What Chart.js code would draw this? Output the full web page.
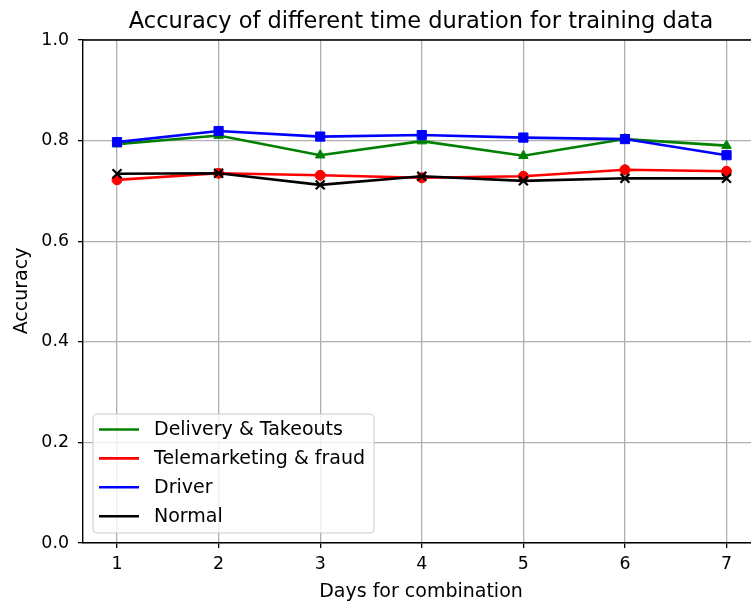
<!DOCTYPE html>
<html>
<head>
<meta charset="utf-8">
<script src="https://cdn.jsdelivr.net/npm/chart.js@4/dist/chart.umd.min.js"></script>
<style>
  html, body { margin: 0; padding: 0; background: #fff; }
  #wrap { width: 751px; height: 606px; overflow: hidden; position: relative; }
  #c { display: block; }
</style>
</head>
<body>
<div id="wrap"><canvas id="c" width="770" height="606"></canvas></div>
<script>
// Days used for combining training data
const days = [1, 2, 3, 4, 5, 6, 7];
const yTicks = [0.0, 0.2, 0.4, 0.6, 0.8, 1.0];

// Accuracy per category
const deliveryTakeouts = [0.793, 0.810, 0.771, 0.799, 0.770, 0.803, 0.790];
const telemarketingFraud = [0.722, 0.735, 0.731, 0.726, 0.729, 0.742, 0.739];
const driver = [0.797, 0.819, 0.808, 0.811, 0.806, 0.803, 0.771];
const normal = [0.734, 0.735, 0.712, 0.729, 0.720, 0.725, 0.725];

const titleText = 'Accuracy of different time duration for training data';
const xTitle = 'Days for combination';
const yTitle = 'Accuracy';

const FONT = '"DejaVu Sans", sans-serif';

function pts(vals) { return vals.map((v, i) => ({ x: days[i], y: v })); }

function series(label, vals, color, style, radius, order) {
  return {
    label, data: pts(vals), borderColor: color, backgroundColor: color,
    borderWidth: 2.6, pointStyle: style, pointRadius: radius,
    pointBorderWidth: style === 'crossRot' ? 2.2 : 1,
    pointBackgroundColor: color, pointBorderColor: color,
    tension: 0, order
  };
}

const decor = {
  id: 'decor',
  afterDraw(chart) {
    const { ctx, chartArea: a } = chart;
    ctx.save();
    // top frame line
    ctx.strokeStyle = '#000';
    ctx.lineWidth = 1.4;
    ctx.beginPath();
    ctx.moveTo(a.left, a.top);
    ctx.lineTo(a.right, a.top);
    ctx.stroke();

    // title
    ctx.fillStyle = '#000';
    ctx.font = '22.5px ' + FONT;
    ctx.textAlign = 'center';
    ctx.textBaseline = 'alphabetic';
    ctx.fillText(titleText, 421, 27.5);

    // axis titles
    ctx.font = '19px ' + FONT;
    ctx.fillText(xTitle, 421, 597);
    ctx.save();
    ctx.translate(27, 291);
    ctx.rotate(-Math.PI / 2);
    ctx.fillText(yTitle, 0, 0);
    ctx.restore();

    // legend
    const lx = 93, ly = 414, lw = 281, lh = 119, r = 4;
    ctx.beginPath();
    ctx.moveTo(lx + r, ly);
    ctx.arcTo(lx + lw, ly, lx + lw, ly + lh, r);
    ctx.arcTo(lx + lw, ly + lh, lx, ly + lh, r);
    ctx.arcTo(lx, ly + lh, lx, ly, r);
    ctx.arcTo(lx, ly, lx + lw, ly, r);
    ctx.closePath();
    ctx.fillStyle = 'rgba(255,255,255,0.8)';
    ctx.fill();
    ctx.strokeStyle = '#cccccc';
    ctx.lineWidth = 1;
    ctx.stroke();

    ctx.font = '19px ' + FONT;
    ctx.textAlign = 'left';
    ctx.textBaseline = 'middle';
    const legendOrder = [...chart.data.datasets].sort((p, q) => q.order - p.order);
    legendOrder.forEach((ds, i) => {
      const y = 429.5 + i * 28.9;
      ctx.strokeStyle = ds.borderColor;
      ctx.lineWidth = 2.6;
      ctx.beginPath();
      ctx.moveTo(99, y);
      ctx.lineTo(139, y);
      ctx.stroke();
      ctx.fillStyle = '#000';
      ctx.fillText(ds.label, 154, y + 1);
    });
    ctx.restore();
  }
};

new Chart(document.getElementById('c'), {
  type: 'line',
  data: {
    datasets: [
      series('Delivery & Takeouts', deliveryTakeouts, '#008000', 'triangle', 5.5, 4),
      series('Telemarketing & fraud', telemarketingFraud, '#ff0000', 'circle', 5, 3),
      series('Driver', driver, '#0000ff', 'rect', 6.5, 2),
      series('Normal', normal, '#000000', 'crossRot', 6.3, 1)
    ]
  },
  options: {
    responsive: false,
    animation: false,
    devicePixelRatio: 1,
    layout: { padding: { top: 40, right: 13, left: 0, bottom: 0 } },
    plugins: { legend: { display: false }, title: { display: false }, tooltip: { enabled: false } },
    scales: {
      x: {
        type: 'linear', min: 0.665, max: 7.3,
        afterBuildTicks: s => { s.ticks = days.map(v => ({ value: v })); },
        afterFit: s => { s.height = 63; },
        grid: { color: '#b0b0b0', lineWidth: 1.3, tickColor: '#000', tickLength: 5, tickWidth: 1.3 },
        border: { display: true, color: '#000', width: 1.4 },
        ticks: { color: '#000', font: { family: FONT, size: 17.4 }, padding: 6, maxRotation: 0 }
      },
      y: {
        type: 'linear', min: 0, max: 1,
        afterBuildTicks: s => { s.ticks = yTicks.map(v => ({ value: v })); },
        afterFit: s => { s.width = 83; },
        grid: { color: '#b0b0b0', lineWidth: 1.3, tickColor: '#000', tickLength: 5, tickWidth: 1.3 },
        border: { display: true, color: '#000', width: 1.4 },
        ticks: { color: '#000', font: { family: FONT, size: 17.4 }, padding: 9,
                 callback: v => v.toFixed(1) }
      }
    }
  },
  plugins: [decor]
});
</script>
</body>
</html>
